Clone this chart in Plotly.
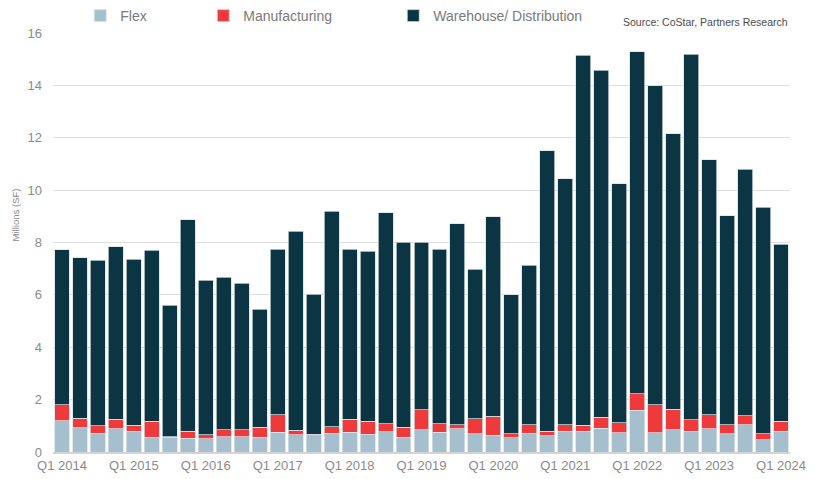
import plotly.graph_objects as go

quarters = [f"Q{q} {y}" for y in range(2014, 2025) for q in range(1, 5)][:41]
tick_labels = [f"Q1 {y}" for y in range(2014, 2025)]

flex = [1.19, 0.92, 0.71, 0.89, 0.79, 0.56, 0.57, 0.53, 0.51, 0.58, 0.58, 0.56, 0.75, 0.66,
        0.62, 0.72, 0.75, 0.67, 0.77, 0.57, 0.85, 0.76, 0.88, 0.69, 0.64, 0.55, 0.72, 0.62,
        0.79, 0.80, 0.90, 0.74, 1.59, 0.74, 0.85, 0.80, 0.88, 0.70, 1.04, 0.47, 0.79]
manufacturing = [0.61, 0.36, 0.29, 0.37, 0.24, 0.61, 0.01, 0.27, 0.15, 0.27, 0.27, 0.38, 0.67,
                 0.18, 0.05, 0.25, 0.51, 0.51, 0.31, 0.37, 0.76, 0.32, 0.16, 0.58, 0.72, 0.15,
                 0.32, 0.17, 0.25, 0.22, 0.42, 0.38, 0.63, 1.06, 0.79, 0.43, 0.54, 0.34, 0.35,
                 0.23, 0.38]
warehouse = [5.93, 6.14, 6.33, 6.58, 6.34, 6.53, 5.02, 8.07, 5.90, 5.83, 5.60, 4.52, 6.33, 7.59,
             5.36, 8.23, 6.49, 6.49, 8.05, 7.07, 6.40, 6.67, 7.67, 5.71, 7.63, 5.30, 6.10, 10.71,
             9.39, 14.13, 13.26, 9.13, 13.07, 12.18, 10.52, 13.96, 9.74, 7.98, 9.41, 8.65, 6.77]

FONT = "Liberation Sans, Arial, sans-serif"
edge = dict(color="rgba(215,225,230,0.9)", width=0.8)

fig = go.Figure()
fig.add_trace(go.Bar(x=quarters, y=flex, name="Flex", marker=dict(color="#a6bfcf", line=edge),
                     legendwidth=78))
fig.add_trace(go.Bar(x=quarters, y=manufacturing, name="Manufacturing",
                     marker=dict(color="#ee3a3b", line=edge), legendwidth=145))
fig.add_trace(go.Bar(x=quarters, y=warehouse, name="Warehouse/ Distribution",
                     marker=dict(color="#0b3543", line=edge)))

fig.update_layout(
    barmode="stack",
    bargap=0.17,
    width=819, height=479,
    margin=dict(l=52.5, r=28.5, t=33, b=26.7, autoexpand=False),
    plot_bgcolor="white", paper_bgcolor="white",
    font=dict(family=FONT, color="#8a8a8a"),
    showlegend=True,
    legend=dict(orientation="h", xref="container", yref="container",
                x=0.098, y=1.0, xanchor="left", yanchor="top",
                font=dict(size=14, color="#7a7a7a"), traceorder="normal",
                bgcolor="rgba(0,0,0,0)"),
    xaxis=dict(type="category", tickmode="array", tickvals=tick_labels, ticktext=tick_labels,
               tickfont=dict(size=13, color="#8a8a8a"), showgrid=False,
               showline=True, linecolor="#d4d4d4", linewidth=2, ticks="",
               range=[-0.5, 40.5]),
    yaxis=dict(range=[0, 16], dtick=2, tickfont=dict(size=13, color="#8a8a8a"),
               showgrid=True, gridcolor="#dedede", gridwidth=1, zeroline=False,
               ticks="", ticklabelstandoff=10),
    annotations=[
        dict(text="Source: CoStar, Partners Research", xref="paper", yref="paper",
             x=1.0, y=1.026, xanchor="right", yanchor="middle", showarrow=False,
             font=dict(size=10.5, color="#4a4a4a")),
        dict(text="Millions (SF)", xref="paper", yref="paper", x=-0.0508, y=0.566,
             xanchor="center", yanchor="middle", textangle=-90, showarrow=False,
             font=dict(size=9.5, color="#8a8a8a")),
    ],
)

fig.write_html("out.html")
